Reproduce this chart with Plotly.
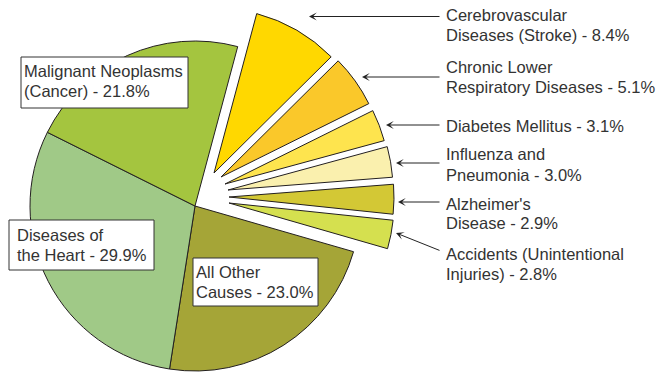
import plotly.graph_objects as go

# ---- data -------------------------------------------------------------
causes = [
    "Cerebrovascular Diseases (Stroke)",
    "Chronic Lower Respiratory Diseases",
    "Diabetes Mellitus",
    "Influenza and Pneumonia",
    "Alzheimer's Disease",
    "Accidents (Unintentional Injuries)",
    "All Other Causes",
    "Diseases of the Heart",
    "Malignant Neoplasms (Cancer)",
]
shares = [8.4, 5.1, 3.1, 3.0, 2.9, 2.8, 23.0, 29.9, 21.8]

# how each label is broken over lines (value is appended to the last line)
label_lines = [
    ["Cerebrovascular", "Diseases (Stroke)"],
    ["Chronic Lower", "Respiratory Diseases"],
    ["Diabetes Mellitus"],
    ["Influenza and", "Pneumonia"],
    ["Alzheimer's", "Disease"],
    ["Accidents (Unintentional", "Injuries)"],
    ["All Other", "Causes"],
    ["Diseases of", "the Heart"],
    ["Malignant Neoplasms", "(Cancer)"],
]

colors = ["#FFD800", "#FAC82A", "#FEE44E", "#FAF0AE", "#D3C835",
          "#D5E04F", "#A5A537", "#A0C987", "#A4C53F"]

# ---- page geometry ------------------------------------------------------
W, H = 658, 373
R = 165                      # pie radius in px
CENTER = (195, 206)          # centre of the main pie
ROTATION = 15                # first slice starts 15 deg clockwise from 12 o'clock
N_EXPLODED = 6               # the six smaller causes are pulled out
# tip of each pulled-out wedge
tips = [(214, 173), (221, 177), (225, 184), (228, 190), (229, 197), (229, 203)]

EDGE = "#231F20"
TEXT = "#333333"
FONT = "Liberation Sans, Arial, sans-serif"
FS = 16.5
CLEAR = "rgba(0,0,0,0)"


def px(x):
    return x / W


def py(y):
    return 1 - y / H


def domain_at(cx, cy):
    return dict(x=[(cx - R) / W, (cx + R) / W], y=[1 - (cy + R) / H, 1 - (cy - R) / H])


total = sum(shares)
starts = []
acc = 0.0
for v in shares:
    starts.append(ROTATION + 360.0 * acc / total)
    acc += v

fig = go.Figure()

# main pie: the three large causes; the exploded ones are left empty here
fig.add_trace(go.Pie(
    labels=causes, values=shares, sort=False, direction="clockwise",
    rotation=ROTATION, domain=domain_at(*CENTER), textinfo="none",
    marker=dict(
        colors=[CLEAR if i < N_EXPLODED else c for i, c in enumerate(colors)],
        line=dict(color=EDGE, width=[0 if i < N_EXPLODED else 1 for i in range(len(shares))]),
    ),
    hoverinfo="label+percent", showlegend=False,
))

# exploded wedges, each drawn around its own tip
for i in range(N_EXPLODED):
    fig.add_trace(go.Pie(
        labels=[causes[i], "rest"], values=[shares[i], total - shares[i]],
        sort=False, direction="clockwise", rotation=starts[i],
        domain=domain_at(*tips[i]), textinfo="none",
        marker=dict(colors=[colors[i], CLEAR], line=dict(color=EDGE, width=[1, 0])),
        hoverinfo="label+percent", showlegend=False,
    ))

annotations = []
shapes = []


def add_lines(i, x, y0, step=20):
    lines = list(label_lines[i])
    lines[-1] = f"{lines[-1]} - {shares[i]:.1f}%"
    for k, t in enumerate(lines):
        annotations.append(dict(
            x=px(x), y=py(y0 + k * step), xref="paper", yref="paper",
            xanchor="left", yanchor="middle", showarrow=False, text=t,
            font=dict(family=FONT, size=FS, color=TEXT),
        ))


# right-hand labels with arrows
right_text = [(15, 0), (67, 1), (126, 2), (154.5, 3), (203.5, 4), (253.5, 5)]
arrows = [  # (head x, head y, tail x, tail y)
    (309, 16.5, 441, 16.5),
    (362, 77, 441, 77),
    (386, 125, 441, 125),
    (396, 163, 441, 163),
    (398, 202, 441, 202),
    (396, 233, 441, 251),
]
for (ty, i), (hx, hy, tx, tyy) in zip(right_text, arrows):
    add_lines(i, 444, ty)
    annotations.append(dict(
        x=px(hx), y=py(hy), xref="paper", yref="paper", text="",
        showarrow=True, ax=tx - hx, ay=tyy - hy, axref="pixel", ayref="pixel",
        arrowhead=3, arrowsize=1.3, arrowwidth=1, arrowcolor="#222222",
    ))

# boxed labels on the large slices
boxes = [  # (index, x0, y0, x1, y1, text x, first line y)
    (8, 21, 57, 188, 108, 22, 70.5),
    (7, 9, 220, 154, 270, 15, 234.5),
    (6, 193, 258, 318, 306, 194, 272),
]
for i, x0, y0, x1, y1, tx, ty in boxes:
    shapes.append(dict(type="rect", xref="paper", yref="paper",
                       x0=px(x0), x1=px(x1), y0=py(y1), y1=py(y0),
                       fillcolor="white", line=dict(color="#333333", width=1)))
    add_lines(i, tx, ty)

fig.update_layout(
    width=W, height=H, margin=dict(l=0, r=0, t=0, b=0, pad=0),
    paper_bgcolor="white", plot_bgcolor="white", showlegend=False,
    annotations=annotations, shapes=shapes,
)

fig.write_html("out.html")
